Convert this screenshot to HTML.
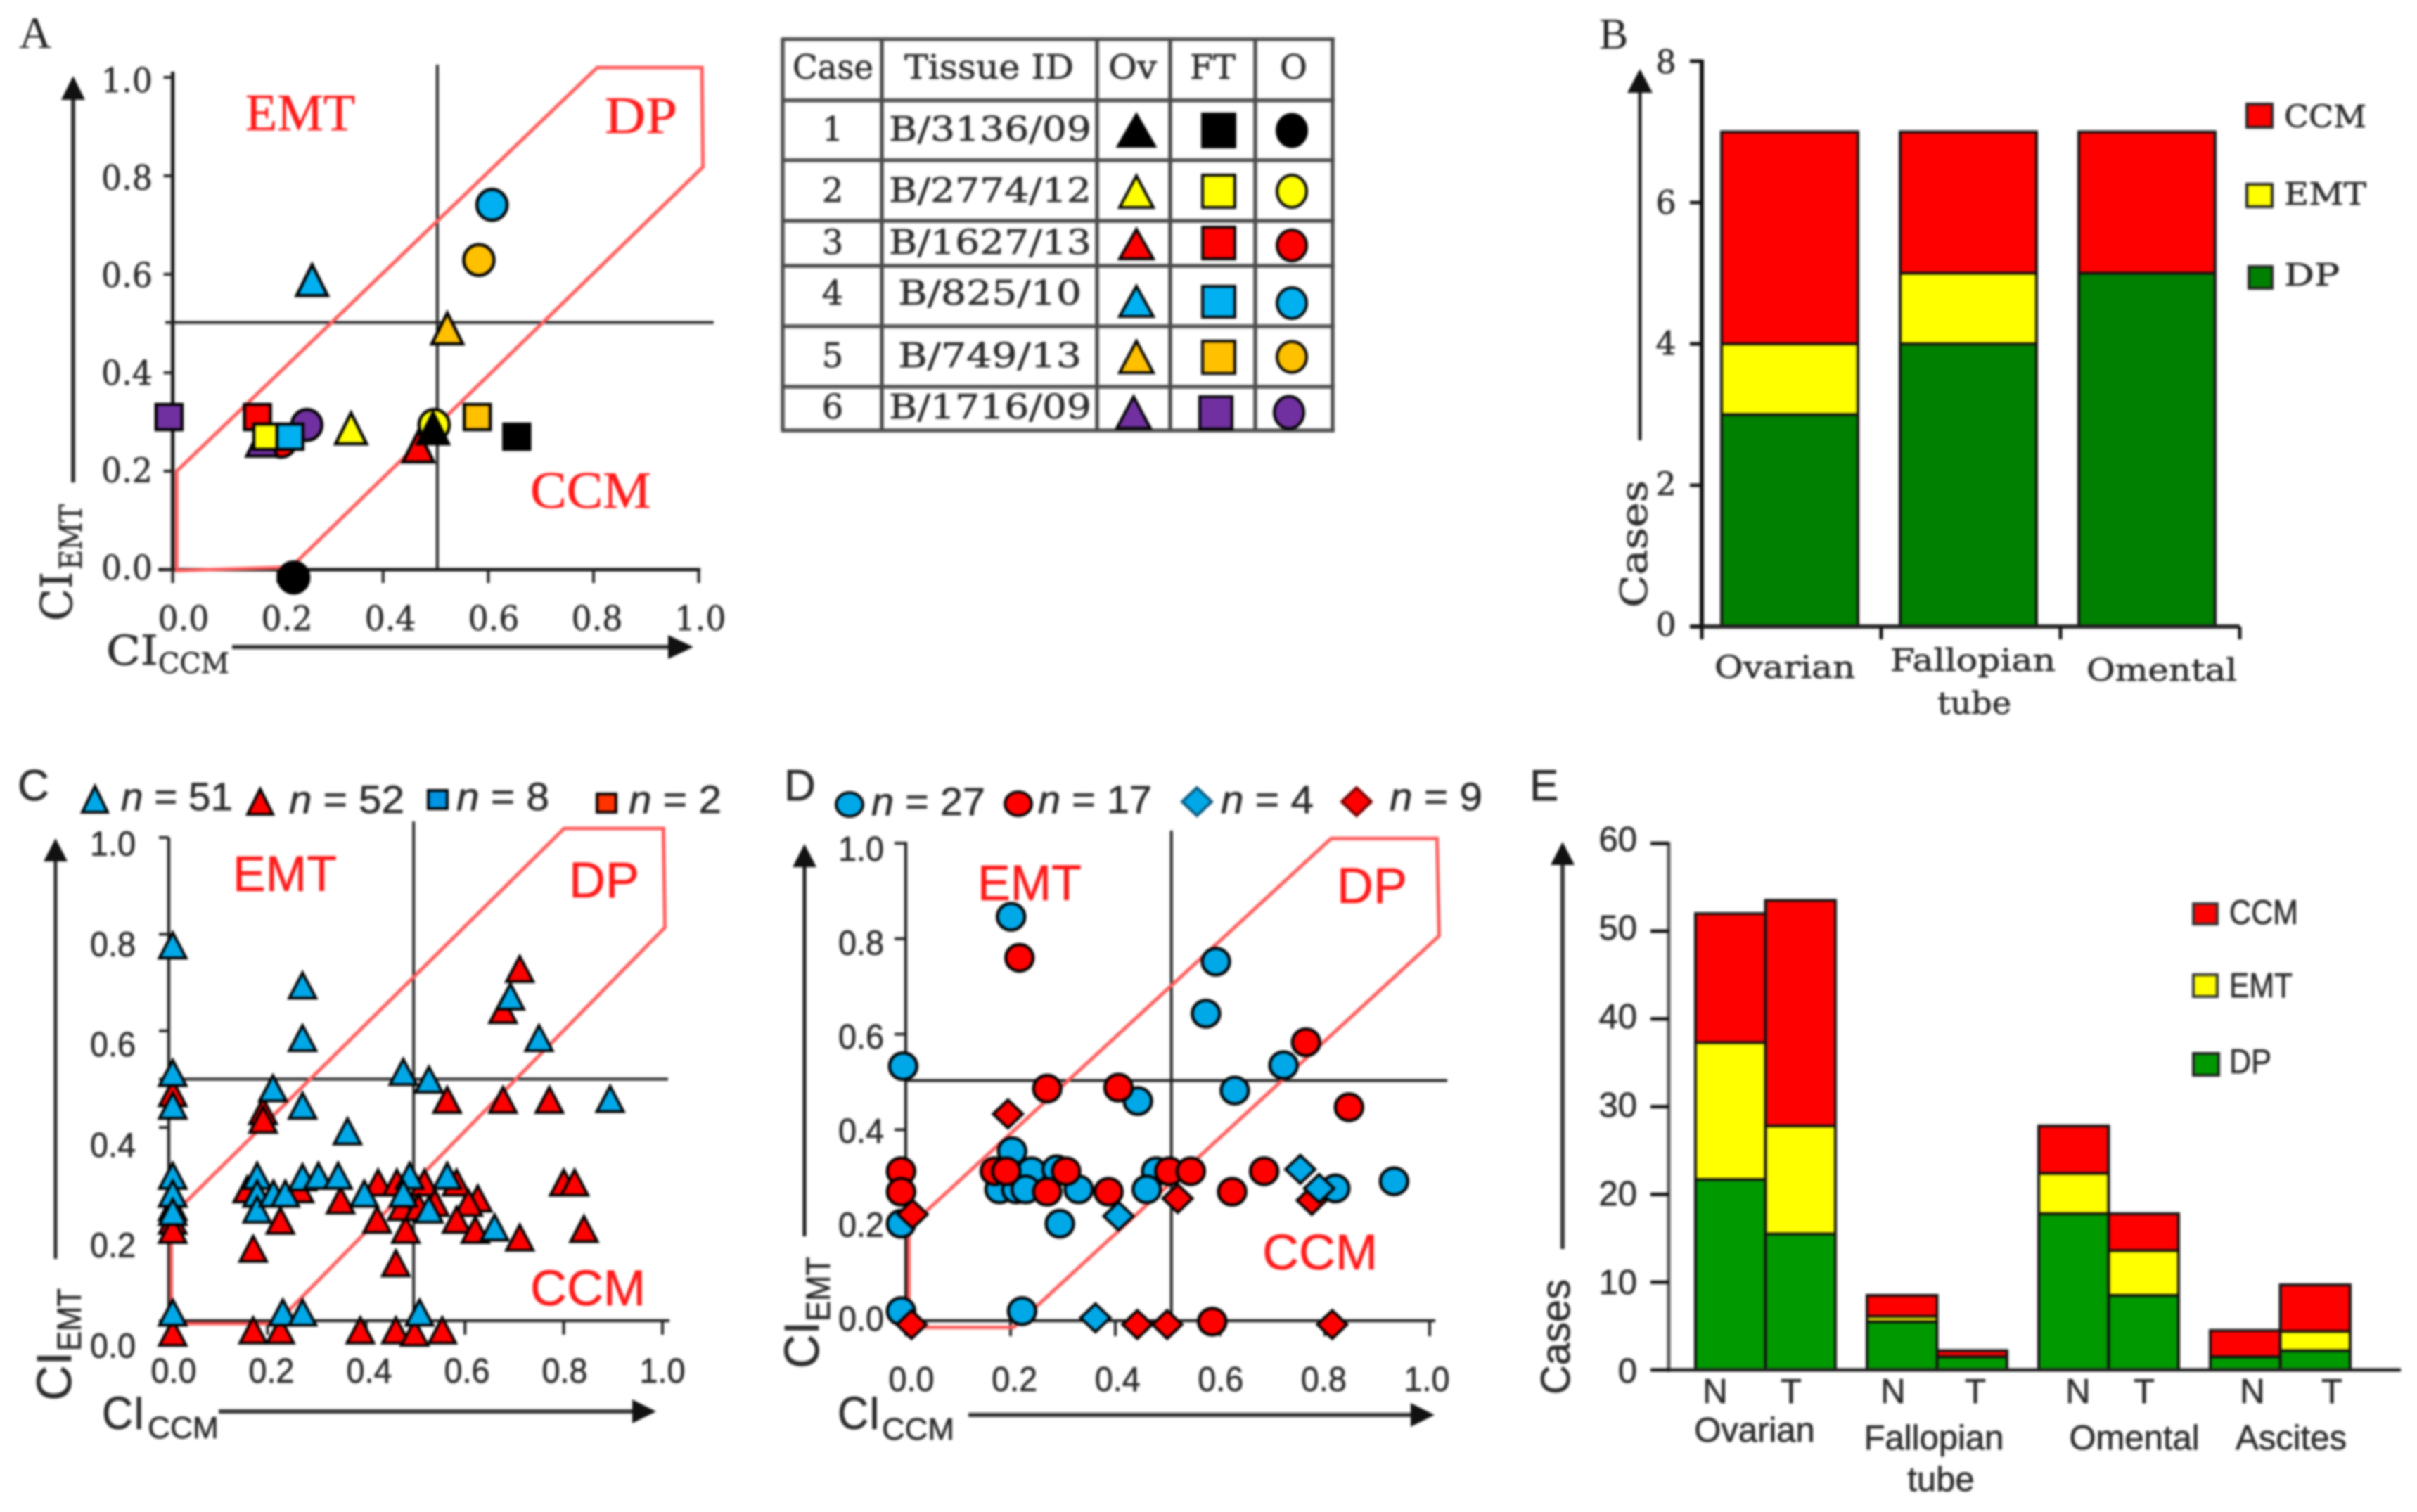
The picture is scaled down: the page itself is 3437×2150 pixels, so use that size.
<!DOCTYPE html>
<html lang="en">
<head>
<meta charset="utf-8">
<title>CI EMT / CCM figure</title>
<style>
html,body{margin:0;padding:0;background:#fff;}
svg{display:block;filter:blur(1.7px);}
.serif{font-family:"DejaVu Serif","Liberation Serif",serif;fill:#2c2c2c;stroke:#2c2c2c;stroke-width:.7px;}
.lserif{font-family:"Liberation Serif",serif;}
.sans{font-family:"Liberation Sans",sans-serif;fill:#2c2c2c;stroke:#2c2c2c;stroke-width:.7px;}
.red{fill:#ff1a1a;stroke:#ff1a1a;stroke-width:.6px;}
</style>
</head>
<body>
<svg id="fig" xmlns="http://www.w3.org/2000/svg" width="3437" height="2150" viewBox="0 0 3437 2150">
<rect x="0" y="0" width="3437" height="2150" fill="#fff"/>

<!-- PANEL A -->
<g id="panelA">
  <text class="lserif" x="27" y="68" font-size="64" fill="#222">A</text>
  <line x1="104" y1="686" x2="104" y2="130" stroke="#333" stroke-width="6"/>
  <polygon points="104,108 87,142 121,142" fill="#111"/>
  <line x1="330" y1="920" x2="960" y2="920" stroke="#333" stroke-width="6"/>
  <polygon points="986,920 950,903 950,937" fill="#111"/>
  <text transform="translate(102,883) rotate(-90)" class="serif"><tspan font-size="62" textLength="70" lengthAdjust="spacingAndGlyphs">CI</tspan></text>
  <text transform="translate(116,810) rotate(-90)" class="serif" font-size="44" textLength="93" lengthAdjust="spacingAndGlyphs">EMT</text>
  <text x="151" y="945" class="serif" font-size="58" textLength="74" lengthAdjust="spacingAndGlyphs">CI</text>
  <text x="225" y="957" class="serif" font-size="40" textLength="101" lengthAdjust="spacingAndGlyphs">CCM</text>
</g>

<!-- TABLE -->
<g id="caseTable">
  <g stroke="#4c4c4c" stroke-width="5.5">
    <line x1="1111" y1="55.7" x2="1898" y2="55.7"/><line x1="1111" y1="142.7" x2="1898" y2="142.7"/>
    <line x1="1111" y1="227.7" x2="1898" y2="227.7"/><line x1="1111" y1="314" x2="1898" y2="314"/>
    <line x1="1111" y1="378" x2="1898" y2="378"/><line x1="1111" y1="464" x2="1898" y2="464"/>
    <line x1="1111" y1="550" x2="1898" y2="550"/><line x1="1111" y1="612" x2="1898" y2="612"/>
    <line x1="1113" y1="54" x2="1113" y2="614"/><line x1="1254" y1="54" x2="1254" y2="614"/>
    <line x1="1560" y1="54" x2="1560" y2="614"/><line x1="1664" y1="54" x2="1664" y2="614"/>
    <line x1="1785" y1="54" x2="1785" y2="614"/><line x1="1895" y1="54" x2="1895" y2="614"/>
  </g>
  <g class="serif" font-size="48">
    <text x="1127" y="112" textLength="115" lengthAdjust="spacingAndGlyphs">Case</text>
    <text x="1286" y="112" textLength="241" lengthAdjust="spacingAndGlyphs">Tissue ID</text>
    <text x="1576" y="112" textLength="69" lengthAdjust="spacingAndGlyphs">Ov</text>
    <text x="1692" y="112" textLength="65" lengthAdjust="spacingAndGlyphs">FT</text>
    <text x="1820" y="112" textLength="39" lengthAdjust="spacingAndGlyphs">O</text>
    <text x="1184" y="200" text-anchor="middle">1</text>
    <text x="1184" y="287" text-anchor="middle">2</text>
    <text x="1184" y="361" text-anchor="middle">3</text>
    <text x="1184" y="433" text-anchor="middle">4</text>
    <text x="1184" y="522" text-anchor="middle">5</text>
    <text x="1184" y="595" text-anchor="middle">6</text>
    <text x="1264" y="200" textLength="288" lengthAdjust="spacingAndGlyphs">B/3136/09</text>
    <text x="1264" y="287" textLength="288" lengthAdjust="spacingAndGlyphs">B/2774/12</text>
    <text x="1264" y="361" textLength="288" lengthAdjust="spacingAndGlyphs">B/1627/13</text>
    <text x="1277" y="433" textLength="261" lengthAdjust="spacingAndGlyphs">B/825/10</text>
    <text x="1277" y="522" textLength="261" lengthAdjust="spacingAndGlyphs">B/749/13</text>
    <text x="1264" y="595" textLength="288" lengthAdjust="spacingAndGlyphs">B/1716/09</text>
  </g>
  <g stroke="#000" stroke-width="4" stroke-linejoin="miter">
    <polygon points="1616,163 1590,208 1642,208" fill="#000"/>
    <rect x="1710" y="162" width="46" height="47" fill="#000"/>
    <ellipse cx="1837" cy="185.5" rx="21" ry="23" fill="#000"/>
    <polygon points="1616,250 1592,295 1640,295" fill="#ffff00"/>
    <rect x="1710" y="249" width="46" height="46" fill="#ffff00"/>
    <ellipse cx="1837" cy="272" rx="21" ry="23" fill="#ffff00"/>
    <polygon points="1616,326 1592,368 1640,368" fill="#ff0000"/>
    <rect x="1710" y="323" width="46" height="45" fill="#ff0000"/>
    <ellipse cx="1837" cy="349" rx="21" ry="22" fill="#ff0000"/>
    <polygon points="1616,407 1592,450 1640,450" fill="#00b0f0"/>
    <rect x="1710" y="407" width="46" height="44" fill="#00b0f0"/>
    <ellipse cx="1837" cy="431" rx="21" ry="22" fill="#00b0f0"/>
    <polygon points="1616,485 1592,530 1640,530" fill="#ffc000"/>
    <rect x="1710" y="485" width="46" height="46" fill="#ffc000"/>
    <ellipse cx="1837" cy="507.6" rx="21" ry="22" fill="#ffc000"/>
    <polygon points="1612,564 1588,609 1636,609" fill="#7030a0"/>
    <rect x="1706" y="564" width="46" height="46" fill="#7030a0"/>
    <ellipse cx="1833" cy="586.5" rx="21" ry="23" fill="#7030a0"/>
  </g>
</g>

<!-- PANEL B -->
<g id="panelB">
  <text class="lserif" x="2274" y="69" font-size="62" fill="#222">B</text>
  <line x1="2332" y1="626" x2="2332" y2="125" stroke="#222" stroke-width="5"/>
  <polygon points="2332,98 2314,132 2350,132" fill="#111"/>
  <text transform="translate(2342,864) rotate(-90)" class="serif" font-size="52" textLength="181" lengthAdjust="spacingAndGlyphs">Cases</text>
  <text x="2438" y="964" class="serif" font-size="44" textLength="200" lengthAdjust="spacingAndGlyphs">Ovarian</text>
  <text x="2688" y="954" class="serif" font-size="44" textLength="235" lengthAdjust="spacingAndGlyphs">Fallopian</text>
  <text x="2755" y="1015" class="serif" font-size="44" textLength="105" lengthAdjust="spacingAndGlyphs">tube</text>
  <text x="2967" y="968" class="serif" font-size="44" textLength="214" lengthAdjust="spacingAndGlyphs">Omental</text>
  <g>
    <rect x="3195" y="148" width="36" height="33" fill="#ff0000" stroke="#222" stroke-width="4"/>
    <rect x="3195" y="262" width="36" height="32" fill="#ffff00" stroke="#222" stroke-width="4"/>
    <rect x="3198" y="379" width="33" height="31" fill="#008000" stroke="#222" stroke-width="4"/>
    <text x="3248" y="181" class="serif" font-size="44" textLength="117" lengthAdjust="spacingAndGlyphs">CCM</text>
    <text x="3248" y="291" class="serif" font-size="44" textLength="117" lengthAdjust="spacingAndGlyphs">EMT</text>
    <text x="3248" y="406" class="serif" font-size="44" textLength="79" lengthAdjust="spacingAndGlyphs">DP</text>
  </g>
</g>

<!-- PANEL C -->
<g id="panelC">
  <text class="sans" x="25" y="1138" font-size="62">C</text>
  <g class="sans" font-size="56">
    <text x="172" y="1152" textLength="159" lengthAdjust="spacingAndGlyphs"><tspan font-style="italic">n</tspan> = 51</text>
    <text x="411" y="1156" textLength="164" lengthAdjust="spacingAndGlyphs"><tspan font-style="italic">n</tspan> = 52</text>
    <text x="649" y="1152" textLength="132" lengthAdjust="spacingAndGlyphs"><tspan font-style="italic">n</tspan> = 8</text>
    <text x="894" y="1156" textLength="132" lengthAdjust="spacingAndGlyphs"><tspan font-style="italic">n</tspan> = 2</text>
  </g>
  <g stroke="#000" stroke-width="4">
    <polygon points="135,1118 117,1155 153,1155" fill="#00a8e8"/>
    <polygon points="370,1122 352,1158 388,1158" fill="#ff0000"/>
    <rect x="609" y="1124" width="27" height="26" fill="#0094e4"/>
    <rect x="849" y="1129" width="27" height="26" fill="#ff3300"/>
  </g>
  <line x1="79" y1="1790" x2="79" y2="1220" stroke="#222" stroke-width="5"/>
  <polygon points="79,1192 62,1225 96,1225" fill="#111"/>
  <line x1="311" y1="2007" x2="905" y2="2007" stroke="#333" stroke-width="6"/>
  <polygon points="933,2007 899,1990 899,2024" fill="#111"/>
  <text transform="translate(101,1992) rotate(-90)" class="sans" font-size="70" textLength="70" lengthAdjust="spacingAndGlyphs">CI</text>
  <text transform="translate(115,1921) rotate(-90)" class="sans" font-size="48" textLength="89" lengthAdjust="spacingAndGlyphs">EMT</text>
  <text x="145" y="2032" class="sans" font-size="66" textLength="61" lengthAdjust="spacingAndGlyphs">CI</text>
  <text x="210" y="2045" class="sans" font-size="44" textLength="101" lengthAdjust="spacingAndGlyphs">CCM</text>
</g>

<!-- PANEL D -->
<g id="panelD">
  <text class="sans" x="1115" y="1138" font-size="62">D</text>
  <g class="sans" font-size="56">
    <text x="1239" y="1159" textLength="162" lengthAdjust="spacingAndGlyphs"><tspan font-style="italic">n</tspan> = 27</text>
    <text x="1476" y="1156" textLength="162" lengthAdjust="spacingAndGlyphs"><tspan font-style="italic">n</tspan> = 17</text>
    <text x="1736" y="1156" textLength="132" lengthAdjust="spacingAndGlyphs"><tspan font-style="italic">n</tspan> = 4</text>
    <text x="1976" y="1152" textLength="132" lengthAdjust="spacingAndGlyphs"><tspan font-style="italic">n</tspan> = 9</text>
  </g>
  <g stroke="#000" stroke-width="4">
    <ellipse cx="1208" cy="1144" rx="19" ry="17" fill="#00a8e8"/>
    <ellipse cx="1448" cy="1143" rx="19" ry="17" fill="#ff0000"/>
    <polygon points="1702,1120 1723,1140 1702,1160 1681,1140" fill="#00a8e8" stroke="#0a5a80"/>
    <polygon points="1929,1120 1950,1140 1929,1160 1908,1140" fill="#ff0000" stroke="#700"/>
  </g>
  <line x1="1144" y1="1758" x2="1144" y2="1225" stroke="#111" stroke-width="5"/>
  <polygon points="1144,1200 1127,1233 1161,1233" fill="#111"/>
  <line x1="1377" y1="2012" x2="2012" y2="2012" stroke="#333" stroke-width="6"/>
  <polygon points="2040,2012 2006,1995 2006,2029" fill="#111"/>
  <text transform="translate(1164,1946) rotate(-90)" class="sans" font-size="70" textLength="67" lengthAdjust="spacingAndGlyphs">CI</text>
  <text transform="translate(1180,1879) rotate(-90)" class="sans" font-size="48" textLength="92" lengthAdjust="spacingAndGlyphs">EMT</text>
  <text x="1191" y="2032" class="sans" font-size="66" textLength="61" lengthAdjust="spacingAndGlyphs">CI</text>
  <text x="1254" y="2047" class="sans" font-size="44" textLength="103" lengthAdjust="spacingAndGlyphs">CCM</text>
</g>

<!-- PANEL E -->
<g id="panelE">
  <text class="sans" x="2175" y="1138" font-size="62">E</text>
  <line x1="2222" y1="1776" x2="2222" y2="1225" stroke="#333" stroke-width="6"/>
  <polygon points="2222,1197 2205,1230 2239,1230" fill="#111"/>
  <text transform="translate(2232,1983) rotate(-90)" class="sans" font-size="58" textLength="164" lengthAdjust="spacingAndGlyphs">Cases</text>
  <g class="sans" font-size="49" text-anchor="middle">
    <text x="2439" y="1995">N</text>
    <text x="2547" y="1995">T</text>
    <text x="2692" y="1995">N</text>
    <text x="2809" y="1995">T</text>
    <text x="2955" y="1995">N</text>
    <text x="3049" y="1995">T</text>
    <text x="3203" y="1995">N</text>
    <text x="3316" y="1995">T</text>
    <text x="2495" y="2050">Ovarian</text>
    <text x="2750" y="2061">Fallopian</text>
    <text x="2760" y="2120">tube</text>
    <text x="3035" y="2061">Omental</text>
    <text x="3258" y="2061">Ascites</text>
  </g>
  <g>
    <rect x="3119" y="1285" width="34" height="29" fill="#ff0000" stroke="#333" stroke-width="4"/>
    <rect x="3119" y="1386" width="34" height="31" fill="#ffff00" stroke="#333" stroke-width="4"/>
    <rect x="3119" y="1498" width="36" height="31" fill="#009900" stroke="#222" stroke-width="4"/>
    <text x="3170" y="1314" class="sans" font-size="49" textLength="98" lengthAdjust="spacingAndGlyphs">CCM</text>
    <text x="3170" y="1418" class="sans" font-size="49" textLength="90" lengthAdjust="spacingAndGlyphs">EMT</text>
    <text x="3170" y="1526" class="sans" font-size="49" textLength="60" lengthAdjust="spacingAndGlyphs">DP</text>
  </g>
</g>
</svg>

<script>
// ===== Panel A data [CI_CCM, CI_EMT] =====
const aCircleBlack=[[.230,-.016]];
const aCircleYellow=[[.497,.294]];
const aCircleRed=[[.206,.260]];
const aCircleBlue=[[.607,.741]];
const aCircleOrange=[[.582,.629]];
const aCirclePurple=[[.255,.294]];
const aTriYellow=[[.339,.287]];
const aTriRed=[[.467,.250]];
const aTriBlue=[[.265,.588]];
const aTriOrange=[[.522,.490]];
const aTriPurple=[[.170,.262]];
const aTriBlack=[[.495,.287]];
const aSqPurple=[[-.007,.310]];
const aSqRed=[[.161,.310]];
const aSqOrange=[[.579,.310]];
const aSqBlack=[[.654,.270]];
const aSqYellow=[[.179,.270]];
const aSqBlue=[[.223,.270]];

// ===== Panel B data =====
const bCategories=['Ovarian','Fallopian tube','Omental'];
const bDP=[3,4,5];
const bEMT=[1,1,0];
const bCCM=[3,2,2];
const bTicks=[0,2,4,6,8];
const bTickLabels=['0','2','4','6','8'];

// ===== Panel C data =====
const cRedTri=[[.711,.728],[.677,.643],[.008,.471],[.564,.457],[.677,.457],[.771,.457],[.191,.434],[.191,.416],[.008,.263],[.008,.235],[.008,.207],[.008,.188],[.159,.272],[.265,.272],[.226,.207],[.171,.149],[.348,.249],[.424,.286],[.462,.286],[.518,.286],[.583,.286],[.626,.253],[.607,.244],[.583,.209],[.621,.188],[.422,.209],[.480,.188],[.460,.119],[.711,.172],[.800,.286],[.822,.286],[.841,.190],[.472,.235],[.506,.235],[.539,.244],[.008,-.025],[.171,-.020],[.226,-.020],[.388,-.020],[.460,-.020],[.498,-.025],[.554,-.020]];
const cBlueTri=[[.008,.777],[.271,.694],[.271,.585],[.008,.513],[.475,.515],[.527,.499],[.211,.481],[.271,.445],[.894,.459],[.008,.445],[.362,.392],[.692,.671],[.750,.585],[.008,.300],[.008,.263],[.008,.225],[.179,.300],[.179,.263],[.179,.230],[.212,.263],[.236,.263],[.271,.297],[.303,.300],[.343,.300],[.396,.263],[.488,.300],[.475,.263],[.527,.230],[.564,.300],[.660,.193],[.008,.017],[.231,.017],[.271,.017],[.508,.017]];

// ===== Panel D data =====
const dBlueCircle=[[.201,.846],[.592,.752],[.573,.643],[-.005,.533],[.721,.535],[.628,.482],[.443,.460],[.203,.355],[.240,.313],[.288,.317],[.179,.275],[.211,.275],[.229,.275],[.330,.275],[.294,.203],[.478,.313],[.460,.275],[.820,.277],[.932,.292],[-.009,.203],[-.009,.020],[.222,.020]];
const dRedCircle=[[.764,.583],[.270,.486],[.406,.488],[.846,.447],[-.009,.313],[-.009,.270],[.170,.313],[.192,.313],[.306,.313],[.270,.270],[.387,.270],[.503,.313],[.544,.313],[.623,.270],[.684,.313],[.585,-.002],[.217,.760]];
const dRedDiamond=[[.195,.433],[.013,.223],[.519,.256],[.775,.252],[.011,-.008],[.442,-.008],[.499,-.008],[.814,-.008]];
const dBlueDiamond=[[.753,.317],[.789,.277],[.406,.219],[.362,.006]];

// ===== Panel E data =====
const eCategories=['Ovarian N','Ovarian T','Fallopian N','Fallopian T','Omental N','Omental T','Ascites N','Ascites T'];
const eDP=[21.7,15.5,5.5,1.5,17.8,8.5,1.5,2.2];
const eEMT=[15.6,12.3,0.6,0,4.6,5.1,0,2.2];
const eCCM=[14.7,25.7,2.4,0.7,5.4,4.2,3.0,5.3];
const eTicks=[0,10,20,30,40,50,60];
const eTickLabels=['0','10','20','30','40','50','60'];

// ===== Shared scatter axis data =====
const ciTicks=[0,0.2,0.4,0.6,0.8,1.0];
const ciTickLabels=['0.0','0.2','0.4','0.6','0.8','1.0'];
const dpZoneA=[[.0075,-.002],[.0075,.2],[.807,1.02],[1.006,1.02],[1.008,.818],[.225,.005]];
const dpZoneC=[[.005,-.006],[.005,.216],[.801,1.019],[1.002,1.019],[1.005,.814],[.217,-.006]];
const dpZoneD=[[.006,-.014],[.006,.196],[.812,1.01],[1.014,1.01],[1.018,.806],[.206,-.014]];

const NS='http://www.w3.org/2000/svg';
function make(tag,parent,attrs){
  const el=document.createElementNS(NS,tag);
  for(const k in attrs){el.setAttribute(k,attrs[k]);}
  parent.appendChild(el);
  return el;
}
const BLACK='#000',YEL='#ffff00',RED='#ff0000',BLU='#00b0f0',ORG='#ffc000',PUR='#7030a0',CBLU='#00a8e8';

// draws one marker at a pixel position already produced by axis functions
function drawMark(parent,shape,px,py,fill,sz,name){
  let el;
  if(shape==='circle'){
    el=make('ellipse',parent,{cx:px,cy:py,rx:sz.rx,ry:sz.ry});
  }else if(shape==='square'){
    el=make('rect',parent,{x:px-sz.rx,y:py-sz.ry,width:2*sz.rx,height:2*sz.ry});
  }else if(shape==='triangle'){
    el=make('polygon',parent,{points:px+','+(py-sz.ry)+' '+(px-sz.rx)+','+(py+sz.ry)+' '+(px+sz.rx)+','+(py+sz.ry)});
  }else{
    el=make('polygon',parent,{points:px+','+(py-sz.ry)+' '+(px+sz.rx)+','+py+' '+px+','+(py+sz.ry)+' '+(px-sz.rx)+','+py});
  }
  el.setAttribute('fill',fill);
  el.setAttribute('stroke',sz.stroke||'#000');
  el.setAttribute('stroke-width',sz.sw);
  
  
  return el;
}

function buildScatter(cfg){
  const g=document.getElementById(cfg.id);
  const X=cfg.x, Y=cfg.y;
  // axes
  const yAxis=make('line',g,{x1:X(0),y1:cfg.axisTop,x2:X(0),y2:Y(0),stroke:'#111','stroke-width':cfg.axisW});
  
  
  const xAxis=make('line',g,{x1:cfg.xStart,y1:Y(0),x2:cfg.xEnd,y2:Y(0),stroke:'#111','stroke-width':cfg.axisW});
  
  
  ciTicks.forEach(function(v,i){
    const ty=make('line',g,{x1:X(0)-cfg.tickLen,y1:Y(v),x2:X(0),y2:Y(v),stroke:'#222','stroke-width':4});
    
    
    const tx=make('line',g,{x1:X(v),y1:Y(0),x2:X(v),y2:Y(0)+cfg.tickLen+6,stroke:'#222','stroke-width':4});
    
    
    const ly=make('text',g,{x:cfg.yLabelX,y:cfg.yLabel(v),'class':cfg.font,'font-size':cfg.tickFont,textLength:cfg.tickW,lengthAdjust:'spacingAndGlyphs'});
    ly.textContent=ciTickLabels[i];
    
    
    const lx=make('text',g,{x:cfg.xLabel(v)-cfg.tickW/2,y:cfg.xLabelY,'class':cfg.font,'font-size':cfg.tickFont,textLength:cfg.tickW,lengthAdjust:'spacingAndGlyphs'});
    lx.textContent=ciTickLabels[i];
    
    
  });
  // threshold lines
  const vl=make('line',g,{x1:X(cfg.vLine),y1:cfg.vTop,x2:X(cfg.vLine),y2:Y(0),stroke:'#222','stroke-width':4});
  
  
  const hl=make('line',g,{x1:cfg.hStart,y1:Y(cfg.hLine),x2:cfg.hEnd,y2:Y(cfg.hLine),stroke:'#222','stroke-width':4});
  
  
  // zone polygon
  const zone=make('polygon',g,{points:cfg.zone.map(function(p){return X(p[0])+','+Y(p[1]);}).join(' '),fill:'none',stroke:'#ff5a5a','stroke-width':5});
  
  
  // region labels
  cfg.regions.forEach(function(r){
    const t=make('text',g,{x:r[1],y:r[2],'class':cfg.regionFont+' red','font-size':cfg.regionSize,textLength:r[3],lengthAdjust:'spacingAndGlyphs'});
    t.textContent=r[0];
    
    
  });
  // series
  cfg.series.forEach(function(s){
    s.data.forEach(function(p){
      drawMark(g,s.shape,X(p[0]),Y(p[1]),s.fill,s.size,s.name);
    });
  });
}

const aCirc={rx:21.5,ry:22,sw:4.5}, aSq={rx:18.5,ry:18,sw:4.5}, aTri={rx:22,ry:22,sw:4.5};
buildScatter({
  id:'panelA',
  x:function(v){return 245.6+748*v;},
  y:function(v){return 810-700*v;},
  axisTop:102,axisW:5,xStart:225,xEnd:996,tickLen:13,
  yLabel:function(v){return 824-693*v;},xLabel:function(v){return 261+735*v;},
  yLabelX:144,xLabelY:896,tickW:73,tickFont:48,font:'serif',
  vLine:.503,vTop:92,hLine:.502,hStart:235,hEnd:1015,
  zone:dpZoneA,regionFont:'lserif',regionSize:74,
  regions:[['EMT',349,185,156],['DP',860,189,103],['CCM',754,722,172]],
  series:[
    {data:aCirclePurple,shape:'circle',fill:PUR,size:aCirc,name:'point-case-6-omental'},
    {data:aCircleRed,shape:'circle',fill:RED,size:aCirc,name:'point-case-3-omental'},
    {data:aCircleYellow,shape:'circle',fill:YEL,size:aCirc,name:'point-case-2-omental'},
    {data:aCircleOrange,shape:'circle',fill:ORG,size:aCirc,name:'point-case-5-omental'},
    {data:aCircleBlue,shape:'circle',fill:BLU,size:aCirc,name:'point-case-4-omental'},
    {data:aCircleBlack,shape:'circle',fill:BLACK,size:aCirc,name:'point-case-1-omental'},
    {data:aTriPurple,shape:'triangle',fill:PUR,size:aTri,name:'point-case-6-ovarian'},
    {data:aTriYellow,shape:'triangle',fill:YEL,size:aTri,name:'point-case-2-ovarian'},
    {data:aTriRed,shape:'triangle',fill:RED,size:aTri,name:'point-case-3-ovarian'},
    {data:aTriBlue,shape:'triangle',fill:BLU,size:aTri,name:'point-case-4-ovarian'},
    {data:aTriOrange,shape:'triangle',fill:ORG,size:aTri,name:'point-case-5-ovarian'},
    {data:aTriBlack,shape:'triangle',fill:BLACK,size:aTri,name:'point-case-1-ovarian'},
    {data:aSqPurple,shape:'square',fill:PUR,size:aSq,name:'point-case-6-fallopian'},
    {data:aSqRed,shape:'square',fill:RED,size:aSq,name:'point-case-3-fallopian'},
    {data:aSqOrange,shape:'square',fill:ORG,size:aSq,name:'point-case-5-fallopian'},
    {data:aSqBlack,shape:'square',fill:BLACK,size:aSq,name:'point-case-1-fallopian'},
    {data:aSqYellow,shape:'square',fill:YEL,size:aSq,name:'point-case-2-fallopian'},
    {data:aSqBlue,shape:'square',fill:BLU,size:aSq,name:'point-case-4-fallopian'}
  ]
});

const cTri={rx:19,ry:18,sw:4};
buildScatter({
  id:'panelC',
  x:function(v){return 240+702*v;},
  y:function(v){return 1878-687*v;},
  axisTop:1191,axisW:4,xStart:226,xEnd:952,tickLen:14,
  yLabel:function(v){return 1930.5-714*v;},xLabel:function(v){return 247+695*v;},
  yLabelX:128,xLabelY:1966,tickW:65,tickFont:49,font:'sans',
  vLine:.496,vTop:1168,hLine:.500,hStart:226,hEnd:950,
  zone:dpZoneC,regionFont:'sans',regionSize:71,
  regions:[['EMT',331,1267,148],['DP',809,1276,100],['CCM',754,1856,164]],
  series:[
    {data:cRedTri,shape:'triangle',fill:RED,size:cTri,name:'point-red-triangle'},
    {data:cBlueTri,shape:'triangle',fill:CBLU,size:cTri,name:'point-blue-triangle'}
  ]
});

const dCirc={rx:19.5,ry:19,sw:4.5}, dDia={rx:21,ry:20,sw:4};
buildScatter({
  id:'panelD',
  x:function(v){return 1288+745*v;},
  y:function(v){return 1878-679*v;},
  axisTop:1197,axisW:4,xStart:1288,xEnd:2041,tickLen:16,
  yLabel:function(v){return 1892-668*v;},xLabel:function(v){return 1296+733*v;},
  yLabelX:1192,xLabelY:1978,tickW:65,tickFont:49,font:'sans',
  vLine:.507,vTop:1181,hLine:.503,hStart:1288,hEnd:2058,
  zone:dpZoneD,regionFont:'sans',regionSize:71,
  regions:[['EMT',1390,1280,148],['DP',1901,1284,100],['CCM',1795,1805,164]],
  series:[
    {data:dBlueCircle,shape:'circle',fill:CBLU,size:dCirc,name:'point-blue-circle'},
    {data:dRedCircle,shape:'circle',fill:RED,size:dCirc,name:'point-red-circle'},
    {data:dRedDiamond,shape:'diamond',fill:RED,size:dDia,name:'point-red-diamond'},
    {data:dBlueDiamond,shape:'diamond',fill:CBLU,size:dDia,name:'point-blue-diamond'}
  ]
});

// ===== Stacked bars =====
function buildStack(cfg){
  const g=document.getElementById(cfg.id);
  const Y=cfg.y;
  cfg.cats.forEach(function(c,i){
    let base=0;
    cfg.series.forEach(function(s){
      const v=s.data[i];
      if(v>0){
        const bar=make('rect',g,{x:cfg.x(i),y:Y(base+v),width:cfg.bw,height:Y(base)-Y(base+v),fill:s.fill,stroke:'#111','stroke-width':cfg.sw});
        
        
      }
      base+=v;
    });
  });
  const yAx=make('line',g,{x1:cfg.axisX,y1:Y(cfg.ticks[cfg.ticks.length-1])-2,x2:cfg.axisX,y2:Y(0)+3,stroke:cfg.yAxisColor,'stroke-width':cfg.axisW});
  
  
  const xAx=make('line',g,{x1:cfg.xStart,y1:Y(0),x2:cfg.xEnd,y2:Y(0),stroke:'#222','stroke-width':cfg.axisW});
  
  
  cfg.ticks.forEach(function(v,i){
    const t=make('line',g,{x1:cfg.axisX-cfg.tickLen,y1:Y(v),x2:cfg.axisX,y2:Y(v),stroke:'#111','stroke-width':5});
    
    
    const l=make('text',g,{x:cfg.labelX,y:cfg.labelY(v),'class':cfg.font,'font-size':cfg.fs,'text-anchor':cfg.anchor});
    l.textContent=cfg.labels[i];
    
    
  });
  (cfg.xTicks||[]).forEach(function(v){
    const t=make('line',g,{x1:cfg.xt(v),y1:Y(0),x2:cfg.xt(v),y2:Y(0)+18,stroke:'#111','stroke-width':5});
    
    
  });
}
buildStack({
  id:'panelB',cats:bCategories,
  x:function(i){return 2448+254*i;},bw:194,sw:4,
  y:function(v){return 891-100.5*v;},
  series:[{key:'dp',data:bDP,fill:'#008000'},{key:'emt',data:bEMT,fill:'#ffff00'},{key:'ccm',data:bCCM,fill:'#ff0000'}],
  axisX:2420,axisW:6,yAxisColor:'#111',xStart:2404,xEnd:3185,tickLen:17,
  ticks:bTicks,labels:bTickLabels,labelX:2369,labelY:function(v){return 904-100*v;},font:'serif',fs:46,anchor:'middle',
  xTicks:[0,1,2,3],xt:function(k){return 2420+255*k;}
});
buildStack({
  id:'panelE',cats:eCategories,
  x:function(i){return 2411+244*Math.floor(i/2)+99.5*(i%2);},bw:99.5,sw:4,
  y:function(v){return 1948-12.48*v;},
  series:[{key:'dp',data:eDP,fill:'#009900'},{key:'emt',data:eEMT,fill:'#ffff00'},{key:'ccm',data:eCCM,fill:'#ff0000'}],
  axisX:2373,axisW:5,yAxisColor:'#555',xStart:2355,xEnd:3414,tickLen:26,
  ticks:eTicks,labels:eTickLabels,labelX:2328,labelY:function(v){return 1966-12.6*v;},font:'sans',fs:49,anchor:'end'
});
</script>
</body>
</html>
